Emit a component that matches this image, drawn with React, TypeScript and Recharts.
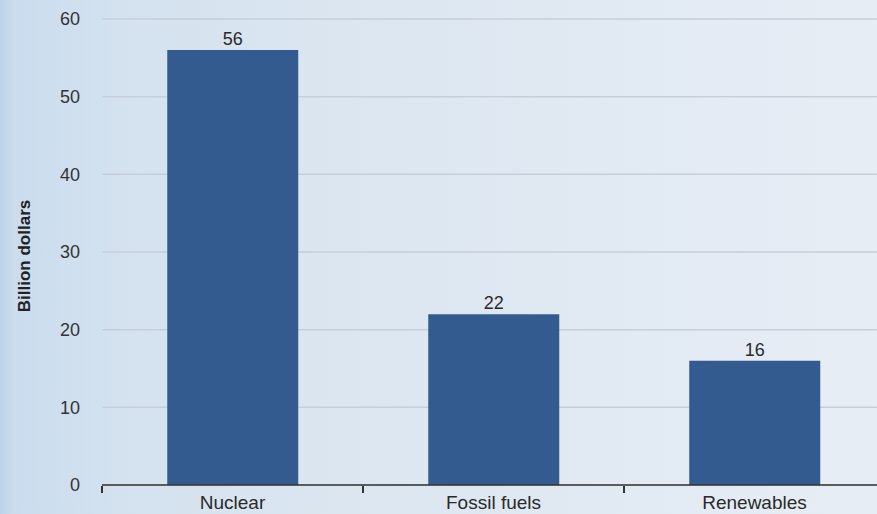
import { Bar, BarChart, CartesianGrid, LabelList, XAxis, YAxis } from "recharts";

const categories = ["Nuclear", "Fossil fuels", "Renewables"];
const spending = [56, 22, 16];
const yTicks = [0, 10, 20, 30, 40, 50, 60];
const boundaryTicks = [0, 1, 2, 3];

const data = categories.map((name, i) => ({ name, value: spending[i], slot: i + 0.5 }));

function AxisTitle() {
  return (
    <text
      x={26}
      y={256}
      transform="rotate(-90 26 256)"
      textAnchor="middle"
      dominantBaseline="middle"
      fontSize={17}
      fontWeight="bold"
      fill="#222"
    >
      Billion dollars
    </text>
  );
}

export default function App() {
  return (
    <div
      style={{
        position: "absolute",
        left: 0,
        top: 0,
        width: 877,
        height: 514,
        overflow: "hidden",
        fontFamily: "'Liberation Sans', Arial, sans-serif",
        background:
          "linear-gradient(to right, #bcd3ea 0px, #cadcee 12px, #d4e2ef 120px, #dde7f1 400px, #e7edf5 877px)",
      }}
    >
      <BarChart
        width={885}
        height={530}
        data={data}
        margin={{ top: 19, right: 0, left: 0, bottom: 43 }}
        barCategoryGap="25%"
      >
        <CartesianGrid vertical={false} stroke="#c6cfd9" strokeWidth={1.5} />
        <XAxis
          dataKey="name"
          height={1}
          tickLine={false}
          tickSize={6}
          tickMargin={5}
          axisLine={{ stroke: "#333", strokeWidth: 1.5 }}
          tick={{ fontSize: 19, fill: "#2a2a2a" }}
        />
        <XAxis
          xAxisId="edges"
          dataKey="slot"
          type="number"
          domain={[0, 3]}
          allowDataOverflow
          ticks={boundaryTicks}
          interval={0}
          height={1}
          tickFormatter={() => ""}
          tick={{ fill: "none", fontSize: 1 }}
          tickSize={7}
          axisLine={false}
          tickLine={{ stroke: "#333", strokeWidth: 2 }}
        />
        <YAxis
          width={102}
          domain={[0, 60]}
          ticks={yTicks}
          axisLine={false}
          tickLine={false}
          tickMargin={16}
          tick={{ fontSize: 18, fill: "#333" }}
          label={<AxisTitle />}
        />
        <Bar dataKey="value" fill="#335b8f" isAnimationActive={false}>
          <LabelList dataKey="value" position="top" offset={5} fontSize={18} fill="#2a2a2a" />
        </Bar>
      </BarChart>
    </div>
  );
}
